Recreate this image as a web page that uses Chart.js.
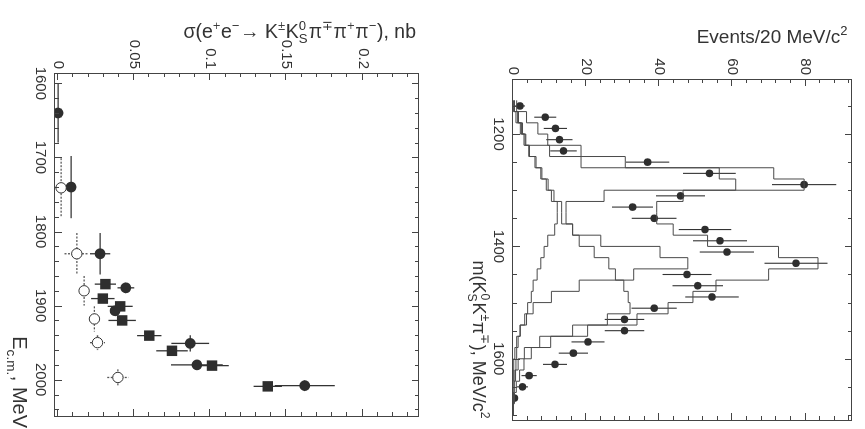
<!DOCTYPE html>
<html><head><meta charset="utf-8">
<script src="https://cdn.jsdelivr.net/npm/chart.js@4.4.0/dist/chart.umd.min.js"></script>
<style>
html,body{margin:0;padding:0;background:#fff;width:865px;height:429px;overflow:hidden;}
.panel{position:absolute;top:0;transform-origin:0 0;transform:rotate(90deg);}
#p1{left:432px;width:429px;height:432px;}
#p2{left:865px;width:429px;height:433px;}
canvas{display:block;}
</style></head>
<body>
<div class="panel" id="p1"><canvas id="c1" width="429" height="432" style="width:429px;height:432px"></canvas></div>
<div class="panel" id="p2"><canvas id="c2" width="429" height="433" style="width:429px;height:433px"></canvas></div>
<script>
// ---------- left panel: cross section ----------
const eTicks = [1600, 1700, 1800, 1900, 2000];
const sigmaTicks = [0, 0.05, 0.1, 0.15, 0.2];

const filledE      = [1640, 1740, 1830, 1876, 1907, 1951, 1980, 2008];
const filledSigma  = [0.0, 0.0086, 0.0276, 0.0445, 0.0375, 0.0868, 0.0912, 0.162];
const filledSigErr = [0.0, 0.0, 0.0066, 0.0055, 0.003, 0.0124, 0.017, 0.0197];
const filledEErr   = [40, 42, 28, 0, 4, 11, 0, 0];

const squareE      = [1871, 1890.5, 1901, 1920, 1940.5, 1961, 1981, 2009];
const squareSigma  = [0.0311, 0.0294, 0.0408, 0.0421, 0.0599, 0.0748, 0.1011, 0.1377];
const squareSigErr = [0.007, 0.0077, 0.0082, 0.009, 0.008, 0.0104, 0.011, 0.0093];

const openE      = [1741, 1830, 1880, 1918, 1950, 1997];
const openSigma  = [0.002, 0.0123, 0.0171, 0.0239, 0.0259, 0.0393];
const openSigErr = [0.0, 0.008, 0.002, 0.002, 0.005, 0.007];
const openEErr   = [40, 28, 20, 17, 10, 11];

// ---------- right panel: mass spectrum ----------
const massTicks = [1200, 1400, 1600];
const eventTicks = [0, 20, 40, 60, 80];

const dataMass   = [1150,1170,1190,1210,1230,1250,1270,1290,1310,1330,1350,1370,1390,1410,1430,1450,1470,1490,1510,1530,1550,1570,1590,1610,1630,1650,1670];
const dataEvents = [1.9,8.8,11.6,12.7,13.8,36.8,53.7,79.6,45.8,32.7,38.6,52.5,56.6,58.5,77.4,47.6,50.5,54.4,38.6,30.5,30.5,20.5,16.5,11.5,4.4,2.6,0.4];
const dataErr    = [1.4,3.0,3.2,3.6,3.6,5.9,7.2,8.8,6.7,5.6,6.1,7.2,7.4,7.4,8.6,6.7,6.9,7.3,6.2,5.4,5.4,4.5,4.0,3.3,2.1,1.5,0.7];

const binEdges = [1140,1160,1180,1200,1220,1240,1260,1280,1300,1320,1340,1360,1380,1400,1420,1440,1460,1480,1500,1520,1540,1560,1580,1600,1620,1640,1660,1680,1700];
// total simulation
const histTotal = [1.0,3.7,6.8,9.5,18.6,30.7,71.3,79.6,46.5,39.3,39.3,43.8,53.2,72.6,83.4,69.9,55.5,49.2,42.4,33.9,20.4,10.3,5.0,3.0,1.8,0.9,0.4,0.1];
// f1(1285)-like component
const histLow   = [0.1,0.8,2.0,3.5,10.0,18.6,56.4,60.9,24.9,14.5,14.5,16.3,18.1,22.2,26.2,28.0,30.3,31.5,32.0,25.8,16.3,7.3,3.1,1.4,0.7,0.3,0.1,0];
// f1(1420)-like component
const histHigh  = [0.4,1.5,2.6,3.3,4.5,6.3,7.9,9.6,11.2,13.3,13.3,16.3,24.0,40.2,47.8,33.0,18.1,10.5,5.5,3.7,2.0,1.0,0.5,0.2,0.1,0,0,0];
// broad component
const histBroad = [0.3,1.2,2.3,3.0,4.3,6.0,7.6,9.1,10.5,12.1,12.1,11.4,9.5,8.5,7.6,6.6,5.5,5.0,4.0,3.2,1.9,1.4,1.0,0.8,0.5,0.3,0.1,0];

// ---------- helpers ----------
const INK = '#333';
const FONT = 'Liberation Sans, Arial, Helvetica, sans-serif';

function histData(vals){
  const pts = vals.map((v,i)=>({x:binEdges[i], y:v}));
  pts.push({x:binEdges[vals.length], y:vals[vals.length-1]});
  return pts;
}
function rangeTicks(a,b,step){const r=[];for(let v=a;v<=b+1e-9;v+=step)r.push(+v.toFixed(6));return r;}

const errPlugin = {
  id:'errbars',
  beforeDatasetsDraw(chart){
    const ctx = chart.ctx, xs = chart.scales.x, ys = chart.scales.y;
    chart.data.datasets.forEach((ds)=>{
      if(!ds.errX && !ds.errY) return;
      ctx.save();
      ctx.strokeStyle = ds.errColor || INK;
      ctx.lineWidth = ds.errWidth || 1.3;
      ctx.setLineDash(ds.errDash || []);
      ds.data.forEach((p,i)=>{
        const px = xs.getPixelForValue(p.x), py = ys.getPixelForValue(p.y);
        if(ds.errX && ds.errX[i]){
          ctx.beginPath();
          ctx.moveTo(xs.getPixelForValue(p.x-ds.errX[i]), py);
          ctx.lineTo(xs.getPixelForValue(p.x+ds.errX[i]), py);
          ctx.stroke();
        }
        if(ds.errY && ds.errY[i]){
          ctx.beginPath();
          ctx.moveTo(px, ys.getPixelForValue(p.y-ds.errY[i]));
          ctx.lineTo(px, ys.getPixelForValue(p.y+ds.errY[i]));
          ctx.stroke();
        }
      });
      ctx.restore();
    });
  }
};

const framePlugin = {
  id:'frameTicks',
  afterDatasetsDraw(chart, args, o){
    const ctx = chart.ctx, a = chart.chartArea, xs = chart.scales.x, ys = chart.scales.y;
    ctx.save();
    ctx.strokeStyle = '#444'; ctx.lineWidth = 1;
    ctx.strokeRect(Math.round(a.left)+0.5, Math.round(a.top)+0.5, Math.round(a.right-a.left), Math.round(a.bottom-a.top));
    const tick = (vals, len, isX)=>{
      vals.forEach(v=>{
        if(isX){
          const p = Math.round(xs.getPixelForValue(v))+0.5;
          if(p<a.left||p>a.right) return;
          ctx.beginPath(); ctx.moveTo(p,a.bottom); ctx.lineTo(p,a.bottom-len);
          ctx.moveTo(p,a.top); ctx.lineTo(p,a.top+len); ctx.stroke();
        } else {
          const p = Math.round(ys.getPixelForValue(v))+0.5;
          if(p<a.top||p>a.bottom) return;
          ctx.beginPath(); ctx.moveTo(a.left,p); ctx.lineTo(a.left+len,p);
          ctx.moveTo(a.right,p); ctx.lineTo(a.right-len,p); ctx.stroke();
        }
      });
    };
    tick(o.xMinor,4,true); tick(o.xMajor,7,true);
    tick(o.yMinor,4,false); tick(o.yMajor,7,false);
    ctx.restore();
  }
};

// rich text: parts = [text] | [text,'sup'|'sub'] | [sup,'supsub',sub]
function richWidth(ctx, parts, size){
  let w=0;
  parts.forEach(p=>{
    if(p.length===1||!p[1]){ctx.font=size+'px '+FONT; w+=ctx.measureText(p[0]).width;}
    else if(p[1]==='supsub'){ctx.font=(size*0.68)+'px '+FONT; w+=Math.max(ctx.measureText(p[0]).width, ctx.measureText(p[2]).width)+1;}
    else {ctx.font=(size*0.68)+'px '+FONT; w+=ctx.measureText(p[0]).width+0.5;}
  });
  return w;
}
function drawRich(ctx, parts, x, y, size){
  let cx = x;
  ctx.textBaseline='alphabetic'; ctx.textAlign='left'; ctx.fillStyle=INK;
  parts.forEach(p=>{
    if(p.length===1||!p[1]){ctx.font=size+'px '+FONT; ctx.fillText(p[0],cx,y); cx+=ctx.measureText(p[0]).width;}
    else if(p[1]==='supsub'){
      ctx.font=(size*0.68)+'px '+FONT;
      ctx.fillText(p[0],cx,y-size*0.42); ctx.fillText(p[2],cx,y+size*0.28);
      cx+=Math.max(ctx.measureText(p[0]).width, ctx.measureText(p[2]).width)+1;
    } else {
      ctx.font=(size*0.68)+'px '+FONT;
      ctx.fillText(p[0],cx, p[1]==='sup'? y-size*0.42 : y+size*0.28);
      cx+=ctx.measureText(p[0]).width+0.5;
    }
  });
}
const titlePlugin = {
  id:'richTitles',
  afterDraw(chart, args, o){
    const ctx = chart.ctx;
    (o.items||[]).forEach(t=>{
      ctx.save();
      const w = richWidth(ctx, t.parts, t.size);
      ctx.translate(t.x, t.y);
      if(t.rotate) ctx.rotate(t.rotate);
      drawRich(ctx, t.parts, -w, 0, t.size);
      ctx.restore();
    });
  }
};

function axisCommon(min,max,ticksArr,pad){
  return {
    type:'linear', min, max,
    afterBuildTicks: ax=>{ ax.ticks = ticksArr.map(v=>({value:v})); },
    grid:{display:false, drawTicks:false}, border:{display:false},
    ticks:{padding:pad, color:INK, font:{family:FONT, size:15}, maxRotation:0, minRotation:0, autoSkip:false, callback:v=>String(v)}
  };
}

// left chart (drawn unrotated: x = E, y = sigma; the page turns it a quarter turn)
const xL = axisCommon(1586, 2049, eTicks, 6);
xL.afterFit = s=>{ s.height = 55; };
const yL = axisCommon(-0.002, 0.237, sigmaTicks, 4);
yL.afterFit = s=>{ s.width = 73; };

new Chart(document.getElementById('c1'), {
  type:'scatter',
  data:{datasets:[
    {data: openE.map((e,i)=>({x:e,y:openSigma[i]})), errX: openEErr, errY: openSigErr, errDash:[2,1.5], errColor:'#555',
     pointStyle:'circle', pointRadius:5.2, backgroundColor:'#fff', borderColor:'#333', borderWidth:1},
    {data: squareE.map((e,i)=>({x:e,y:squareSigma[i]})), errY: squareSigErr,
     pointStyle:'rect', pointRadius:7.4, backgroundColor:'#2e2e2e', borderColor:'#2e2e2e', borderWidth:0},
    {data: filledE.map((e,i)=>({x:e,y:filledSigma[i]})), errX: filledEErr, errY: filledSigErr,
     pointStyle:'circle', pointRadius:5.4, backgroundColor:'#2e2e2e', borderColor:'#2e2e2e', borderWidth:0}
  ]},
  options:{
    responsive:false, devicePixelRatio:1, animation:false,
    layout:{padding:{top:13,right:13,left:0,bottom:0}},
    scales:{x:xL, y:yL},
    plugins:{
      legend:{display:false}, tooltip:{enabled:false},
      frameTicks:{xMajor:eTicks, xMinor:rangeTicks(1600,2040,20), yMajor:sigmaTicks, yMinor:rangeTicks(0,0.23,0.01)},
      richTitles:{items:[
        {x:38, y:16, rotate:-Math.PI/2, size:19.5, parts:[['σ(e'],['+','sup'],['e'],['−','sup'],['→ K'],['±','sup'],['K'],['0','supsub','S'],['π'],['∓','sup'],['π'],['+','sup'],['π'],['−','sup'],['), nb']]},
        {x:428, y:419, size:20, parts:[['E'],['c.m.','sub'],[', MeV']]}
      ]}
    }
  },
  plugins:[errPlugin, framePlugin, titlePlugin]
});

// right chart (x = mass, y = events)
const xR = axisCommon(1102, 1709, massTicks, 6);
xR.afterFit = s=>{ s.height = 81; };
const yR = axisCommon(0, 92.7, eventTicks, 4);
yR.afterFit = s=>{ s.width = 79; };

const histStyle = {type:'line', showLine:true, stepped:'before', pointRadius:0, borderColor:'#4a4a4a', borderWidth:1, fill:false};
new Chart(document.getElementById('c2'), {
  type:'scatter',
  data:{datasets:[
    Object.assign({data:histData(histBroad)}, histStyle),
    Object.assign({data:histData(histHigh)}, histStyle),
    Object.assign({data:histData(histLow)}, histStyle),
    Object.assign({data:histData(histTotal)}, histStyle),
    {data: dataMass.map((m,i)=>({x:m,y:dataEvents[i]})), errY: dataErr, errWidth:1.1,
     pointStyle:'circle', pointRadius:3.8, backgroundColor:'#2e2e2e', borderColor:'#2e2e2e', borderWidth:0}
  ]},
  options:{
    responsive:false, devicePixelRatio:1, animation:false,
    layout:{padding:{top:9,right:9,left:0,bottom:0}},
    scales:{x:xR, y:yR},
    plugins:{
      legend:{display:false}, tooltip:{enabled:false},
      frameTicks:{xMajor:massTicks, xMinor:rangeTicks(1150,1700,50), yMajor:eventTicks, yMinor:rangeTicks(0,92,4)},
      richTitles:{items:[
        {x:43, y:17, rotate:-Math.PI/2, size:19, parts:[['Events/20 MeV/c'],['2','sup']]},
        {x:419, y:392, size:18, parts:[['m(K'],['0','supsub','S'],['K'],['±','sup'],['π'],['∓','sup'],['), MeV/c'],['2','sup']]}
      ]}
    }
  },
  plugins:[errPlugin, framePlugin, titlePlugin]
});
</script>
</body></html>
